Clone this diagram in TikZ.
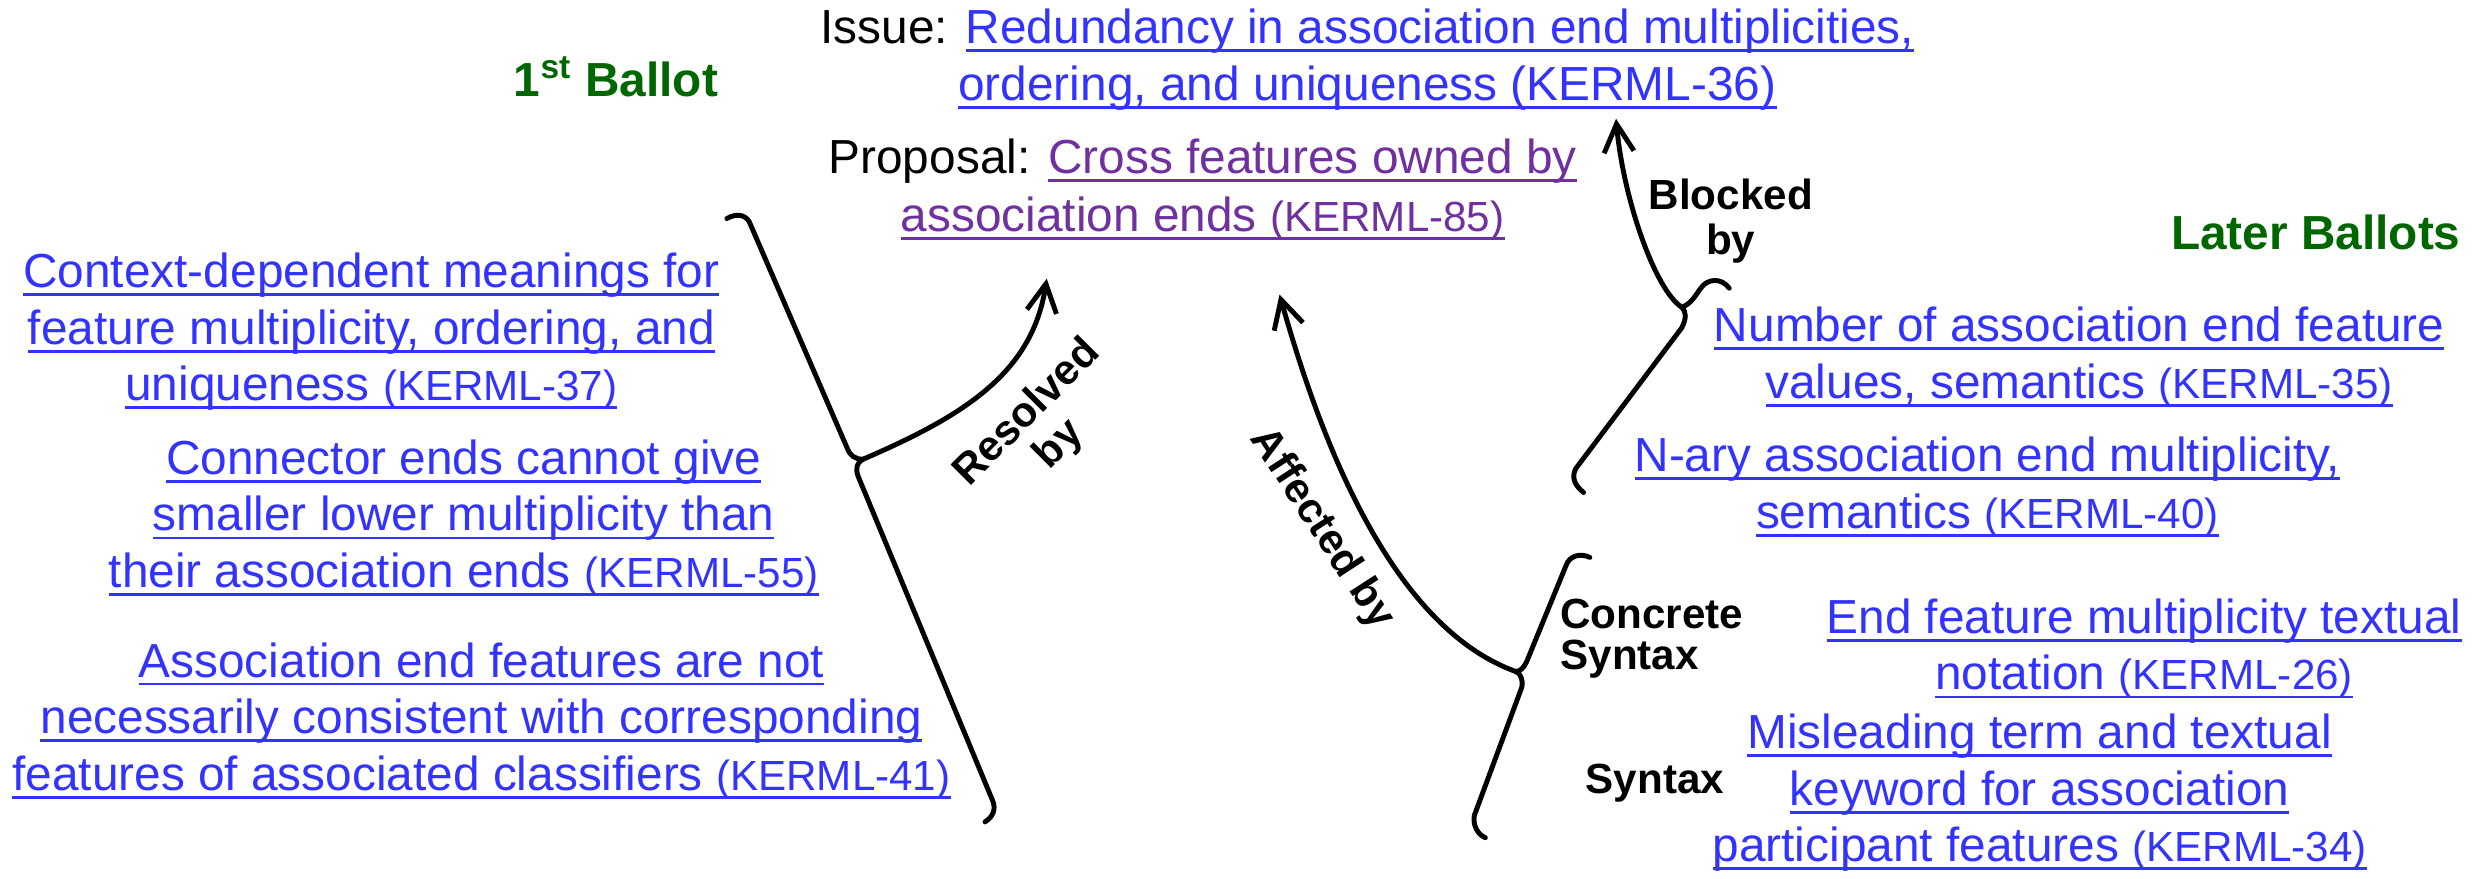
\documentclass[tikz,border=0pt]{standalone}
\usepackage{fontspec}
\setmainfont{Liberation Sans}
\usetikzlibrary{arrows.meta}
\definecolor{lnk}{RGB}{51,51,255}
\definecolor{vis}{RGB}{112,48,160}
\definecolor{grn}{RGB}{0,102,0}
\newsavebox\lkbox
\newcommand\lk[1]{\sbox\lkbox{#1}\rlap{\rule[-2.4pt]{\wd\lkbox}{0.8pt}}\usebox\lkbox}
\newcommand\sm{\fontsize{12}{16.1}\selectfont}
\begin{document}
\begin{tikzpicture}[x=0.0158355cm, y=-0.0158355cm,
  txt/.style={inner sep=0pt, align=center, anchor=base, font=\fontsize{13.6}{16.1}\selectfont},
  link/.style={txt, text=lnk},
  lbl/.style={inner sep=0pt, font=\bfseries\fontsize{12}{12.8}\selectfont},
  ballot/.style={inner sep=0pt, anchor=base, text=grn, font=\bfseries\fontsize{13.6}{16}\selectfont},
  brace/.style={line width=1.4pt, line cap=round, line join=round},
  arr/.style={brace, -{Straight Barb[length=8pt,width=8.5pt]}}
]
\useasboundingbox (0,0) rectangle (1568,555);

% header blocks (anchor = baseline of last line)
\node[txt] (issue) at (863.5,63.2) {Issue: \textcolor{lnk}{\lk{Redundancy in association end multiplicities,}}\\\textcolor{lnk}{\lk{ordering, and uniqueness (KERML-36)}}};
\node[txt, font=\fontsize{13.6}{16.5}\selectfont] (proposal) at (759.5,146.3) {Proposal: \textcolor{vis}{\lk{Cross features owned by}}\\\textcolor{vis}{\lk{association ends {\sm(KERML-85)}}}};

% ballots
\node[ballot] (first) at (389,61) {1\textsuperscript{st} Ballot};
\node[ballot] (later) at (1462.4,157.5) {Later Ballots};

% left issues
\node[link] (k37) at (234.5,253) {\lk{Context-dependent meanings for}\\\lk{feature multiplicity, ordering, and}\\\lk{uniqueness {\sm(KERML-37)}}};
\node[link] (k55) at (292.8,371) {\lk{Connector ends cannot give}\\\lk{smaller lower multiplicity than}\\\lk{their association ends {\sm(KERML-55)}}};
\node[link] (k41) at (304,499) {\lk{Association end features are not}\\\lk{necessarily consistent with corresponding}\\\lk{features of associated classifiers {\sm(KERML-41)}}};

% right issues
\node[link] (k35) at (1313,251.5) {\lk{Number of association end feature}\\\lk{values, semantics {\sm(KERML-35)}}};
\node[link] (k40) at (1255,333.6) {\lk{N-ary association end multiplicity,}\\\lk{semantics {\sm(KERML-40)}}};
\node[link] (k26) at (1354,435.7) {\lk{End feature multiplicity textual}\\\lk{notation {\sm(KERML-26)}}};
\node[link] (k34) at (1288,544.2) {\lk{Misleading term and textual}\\\lk{keyword for association}\\\lk{participant features {\sm(KERML-34)}}};

% labels
\node[lbl, align=center, anchor=base] (blocked) at (1093,161) {Blocked\\by};
\node[lbl, align=left, anchor=base west, font=\bfseries\fontsize{12}{11.9}\selectfont] (concrete) at (985,423) {Concrete\\Syntax};
\node[lbl, anchor=base west] (syntax) at (1001,501) {Syntax};
\node[lbl, align=center, rotate=45] (resolved) at (659,271) {Resolved\\by};
\node[lbl, rotate=-57] (affected) at (834.6,334) {Affected by};

% left brace and "Resolved by" arrow
\coordinate (lcusp) at (545,290);
\coordinate (ltip) at (661,176);
\draw[brace] (459,138) .. controls (466,134) and (472,136) .. (474,142) -- (535,283) .. controls (537,288) and (540,290) .. (lcusp) .. controls (541,292) and (540,296) .. (542,301) -- (627,506) .. controls (629,511) and (627,516) .. (622,519);
\draw[arr] (lcusp) .. controls (610,262) and (652,235) .. (ltip);

% right brace and "Affected by" arrow
\coordinate (acusp) at (957,424);
\coordinate (atip) at (808,186);
\draw[brace] (1004,352) .. controls (998,349) and (991,351) .. (989,357) -- (964,418) .. controls (962,422) and (960,424) .. (acusp) .. controls (960,425) and (962,429) .. (961,434) -- (931,515) .. controls (930,521) and (933,527) .. (938,529);
\draw[arr] (acusp) .. controls (876,394.5) and (832,271) .. (atip);

% later brace and "Blocked by" arrow
\coordinate (bcusp) at (1062,194);
\coordinate (btip) at (1020.5,75);
\draw[brace] (1092,182) .. controls (1087,175) and (1078,176) .. (1074,182) .. controls (1071,186) and (1068,192) .. (bcusp) .. controls (1065,197) and (1065,201) .. (1062,207) -- (995,296) .. controls (992,302) and (995,307) .. (1000,311);
\draw[arr] (bcusp) .. controls (1045,183) and (1025,125) .. (btip);
\end{tikzpicture}
\end{document}
